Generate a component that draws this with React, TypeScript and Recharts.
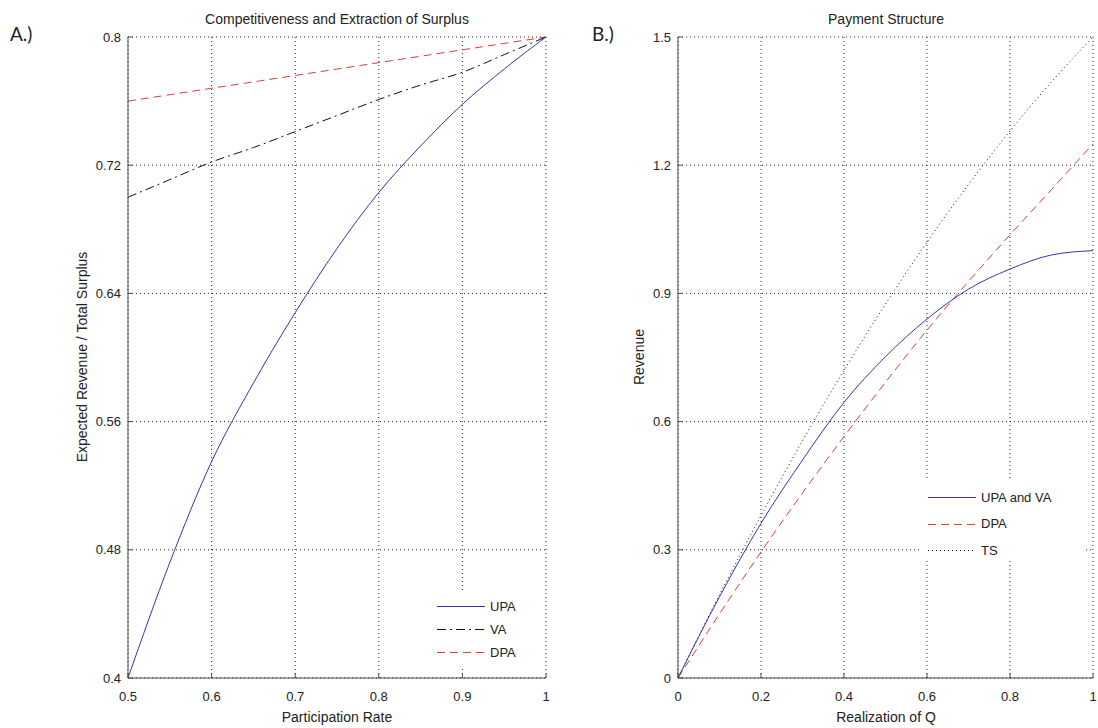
import React from 'react';
import { LineChart, Line, XAxis, YAxis, CartesianGrid } from 'recharts';

// Panel A: competitiveness vs. share of surplus extracted
const participationRate = [0.5, 0.55, 0.6, 0.65, 0.7, 0.75, 0.8, 0.85, 0.9, 0.95, 1.0];
const upaShare = [0.4, 0.472, 0.535, 0.584, 0.628, 0.668, 0.703, 0.732, 0.758, 0.78, 0.8];
const vaShare = [0.7, 0.711, 0.722, 0.731, 0.741, 0.751, 0.761, 0.77, 0.778, 0.789, 0.8];
const dpaShare = [0.76, 0.764, 0.768, 0.772, 0.776, 0.78, 0.784, 0.788, 0.792, 0.796, 0.8];
const leftXTicks = [0.5, 0.6, 0.7, 0.8, 0.9, 1];
const leftYTicks = [0.4, 0.48, 0.56, 0.64, 0.72, 0.8];

// Panel B: payment structure
const realizationQ = [0, 0.1, 0.2, 0.3, 0.4, 0.5, 0.6, 0.7, 0.8, 0.9, 1.0];
const upaVaRevenue = [0, 0.19, 0.362, 0.51, 0.645, 0.752, 0.84, 0.91, 0.957, 0.99, 1.0];
const dpaRevenue = [0, 0.15, 0.295, 0.433, 0.565, 0.692, 0.814, 0.928, 1.037, 1.143, 1.25];
const tsRevenue = [0, 0.195, 0.38, 0.555, 0.72, 0.875, 1.02, 1.155, 1.28, 1.395, 1.5];
const rightXTicks = [0, 0.2, 0.4, 0.6, 0.8, 1];
const rightYTicks = [0, 0.3, 0.6, 0.9, 1.2, 1.5];

const leftData = participationRate.map((x, i) => ({
  x,
  upa: upaShare[i],
  va: vaShare[i],
  dpa: dpaShare[i],
}));

const rightData = realizationQ.map((x, i) => ({
  x,
  upaVa: upaVaRevenue[i],
  dpa: dpaRevenue[i],
  ts: tsRevenue[i],
}));

const FONT = '"Liberation Sans", Arial, Helvetica, sans-serif';
const BLUE = '#3636a8';
const RED = '#e23a36';
const BLACK = '#111';
const GRID = '#222';
const AXIS = '#4a4a4a';

const tickStyle = { fontSize: 13, fill: '#222', fontFamily: FONT };

interface LegendRow {
  label: string;
  color: string;
  dash?: string;
}

function LegendBox({
  left,
  top,
  width,
  height,
  rowGap,
  rows,
}: {
  left: number;
  top: number;
  width: number;
  height: number;
  rowGap: number;
  rows: LegendRow[];
}) {
  return (
    <div
      style={{
        position: 'absolute',
        left,
        top,
        width,
        height,
        background: '#fff',
      }}
    >
      {rows.map((r, i) => (
        <div
          key={r.label}
          style={{
            position: 'absolute',
            left: 7,
            top: 16 + i * rowGap - 8,
            height: 16,
            display: 'flex',
            alignItems: 'center',
            fontFamily: FONT,
            fontSize: 13,
            color: '#222',
            whiteSpace: 'nowrap',
          }}
        >
          <svg width={48} height={16} style={{ marginRight: 5 }}>
            <line x1={0} y1={8.5} x2={48} y2={8.5} stroke={r.color} strokeWidth={1} strokeDasharray={r.dash} />
          </svg>
          {r.label}
        </div>
      ))}
    </div>
  );
}

function Txt({
  x,
  y,
  children,
  size = 14,
  rotate = false,
  family = FONT,
  anchor = 'center',
}: {
  x: number;
  y: number;
  children: React.ReactNode;
  size?: number;
  rotate?: boolean;
  family?: string;
  anchor?: 'center' | 'left';
}) {
  const tx = anchor === 'center' ? '-50%' : '0';
  return (
    <div
      style={{
        position: 'absolute',
        left: x,
        top: y,
        transform: `translate(${tx}, -50%)${rotate ? ' rotate(-90deg)' : ''}`,
        transformOrigin: anchor === 'center' ? 'center' : 'left center',
        fontFamily: family,
        fontSize: size,
        color: '#222',
        whiteSpace: 'nowrap',
        lineHeight: 1,
      }}
    >
      {children}
    </div>
  );
}

export default function App() {
  return (
    <div
      style={{
        position: 'absolute',
        left: 0,
        top: 0,
        width: 1098,
        height: 728,
        background: '#fff',
        overflow: 'hidden',
      }}
    >
      {/* Panel A */}
      <div style={{ position: 'absolute', left: 0, top: 0 }}>
        <LineChart
          width={560}
          height={728}
          data={leftData}
          margin={{ top: 37, right: 14, bottom: 20, left: 68 }}
        >
          <CartesianGrid stroke={GRID} strokeDasharray="1 3" />
          <XAxis
            type="number"
            dataKey="x"
            domain={[0.5, 1]}
            ticks={leftXTicks}
            interval={0}
            height={30}
            tick={tickStyle}
            tickSize={-5}
            tickMargin={19}
            stroke={AXIS}
          />
          <YAxis
            type="number"
            domain={[0.4, 0.8]}
            ticks={leftYTicks}
            interval={0}
            width={60}
            tick={tickStyle}
            tickSize={-5}
            tickMargin={12}
            stroke={AXIS}
          />
          <Line type="monotone" dataKey="dpa" stroke={RED} strokeWidth={1} strokeDasharray="8 5" dot={false} isAnimationActive={false} />
          <Line type="monotone" dataKey="va" stroke={BLACK} strokeWidth={1} strokeDasharray="9 4 2 4" dot={false} isAnimationActive={false} />
          <Line type="monotone" dataKey="upa" stroke={BLUE} strokeWidth={1} dot={false} isAnimationActive={false} />
        </LineChart>
      </div>

      {/* Panel B */}
      <div style={{ position: 'absolute', left: 560, top: 0 }}>
        <LineChart
          width={538}
          height={728}
          data={rightData}
          margin={{ top: 37, right: 5, bottom: 20, left: 58 }}
        >
          <CartesianGrid stroke={GRID} strokeDasharray="1 3" />
          <XAxis
            type="number"
            dataKey="x"
            domain={[0, 1]}
            ticks={rightXTicks}
            interval={0}
            height={30}
            tick={tickStyle}
            tickSize={-5}
            tickMargin={19}
            stroke={AXIS}
          />
          <YAxis
            type="number"
            domain={[0, 1.5]}
            ticks={rightYTicks}
            interval={0}
            width={60}
            tick={tickStyle}
            tickSize={-5}
            tickMargin={12}
            stroke={AXIS}
          />
          <Line type="monotone" dataKey="ts" stroke={BLACK} strokeWidth={1} strokeDasharray="1 3" dot={false} isAnimationActive={false} />
          <Line type="monotone" dataKey="dpa" stroke={RED} strokeWidth={1} strokeDasharray="8 5" dot={false} isAnimationActive={false} />
          <Line type="monotone" dataKey="upaVa" stroke={BLUE} strokeWidth={1} dot={false} isAnimationActive={false} />
        </LineChart>
      </div>

      <LegendBox
        left={430}
        top={590}
        width={114}
        height={76}
        rowGap={23}
        rows={[
          { label: 'UPA', color: BLUE },
          { label: 'VA', color: BLACK, dash: '9 4 2 4' },
          { label: 'DPA', color: RED, dash: '8 5' },
        ]}
      />
      <LegendBox
        left={921}
        top={481}
        width={165}
        height={80}
        rowGap={26.5}
        rows={[
          { label: 'UPA and VA', color: BLUE },
          { label: 'DPA', color: RED, dash: '8 5' },
          { label: 'TS', color: BLACK, dash: '1 3' },
        ]}
      />

      <Txt x={10} y={33} size={19} family='Lato, "Open Sans", sans-serif' anchor="left">A.)</Txt>
      <Txt x={592} y={33} size={19} family='Lato, "Open Sans", sans-serif' anchor="left">B.)</Txt>

      <Txt x={337} y={19}>Competitiveness and Extraction of Surplus</Txt>
      <Txt x={886} y={19}>Payment Structure</Txt>

      <Txt x={337} y={717}>Participation Rate</Txt>
      <Txt x={886} y={717}>Realization of Q</Txt>

      <Txt x={82} y={357} rotate>Expected Revenue / Total Surplus</Txt>
      <Txt x={639} y={357} rotate>Revenue</Txt>
    </div>
  );
}
